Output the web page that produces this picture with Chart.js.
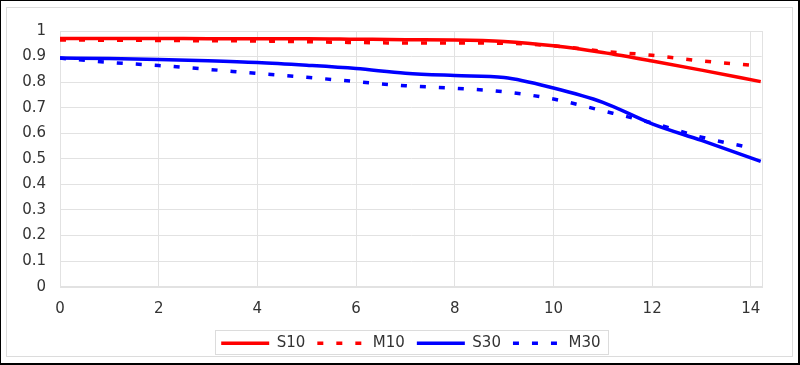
<!DOCTYPE html>
<html>
<head>
<meta charset="utf-8">
<script src="https://cdn.jsdelivr.net/npm/chart.js@4/dist/chart.umd.min.js"></script>
<style>
  html, body { margin: 0; padding: 0; background: #fff; }
  #frame { position: relative; width: 800px; height: 365px; box-sizing: border-box;
           border-top: 1px solid #000; border-left: 1px solid #000;
           border-right: 2px solid #000; border-bottom: 2px solid #000; overflow: hidden; }
  #inner { position: absolute; left: 5px; top: 6px; width: 787px; height: 350px;
           border: 1px solid #dcdcdc; box-sizing: border-box; pointer-events: none; }
  #c { position: absolute; left: -1px; top: -1px; }
</style>
</head>
<body>
<div id="frame">
  <div id="inner"></div>
  <canvas id="c" width="800" height="365"></canvas>
</div>
<script>
// ---- data ----
const xS = [0, 1, 2, 3, 4, 5, 6, 7, 8, 9, 10, 11, 12, 13, 14.2];
const s10 = [0.971, 0.971, 0.971, 0.970, 0.970, 0.970, 0.968, 0.966, 0.965, 0.959, 0.942, 0.916, 0.883, 0.847, 0.802];
const s30 = [0.894, 0.892, 0.889, 0.884, 0.877, 0.866, 0.853, 0.835, 0.826, 0.818, 0.777, 0.721, 0.637, 0.572, 0.490];
const xM = [0, 1, 2, 3, 4, 5, 6, 7, 8, 9, 10, 11, 12, 13, 14];
const m10 = [0.965, 0.964, 0.963, 0.962, 0.961, 0.958, 0.955, 0.953, 0.953, 0.952, 0.942, 0.921, 0.905, 0.883, 0.866];
const m30 = [0.894, 0.877, 0.865, 0.850, 0.834, 0.819, 0.802, 0.786, 0.776, 0.762, 0.734, 0.688, 0.640, 0.585, 0.543];
const seriesNames = ['S10', 'M10', 'S30', 'M30'];
const xTicks = [0, 2, 4, 6, 8, 10, 12, 14];
const yTicks = [0, 0.1, 0.2, 0.3, 0.4, 0.5, 0.6, 0.7, 0.8, 0.9, 1];
const yTickLabels = ['0', '0.1', '0.2', '0.3', '0.4', '0.5', '0.6', '0.7', '0.8', '0.9', '1'];
const xMax = 14.22;

const pts = (xs, ys) => xs.map((x, i) => ({ x: x, y: ys[i] }));
const RED = '#ff0000', BLUE = '#0000ff';
const GRID = '#e2e2e2';
const FONT = { family: '"DejaVu Sans", sans-serif', size: 15 };

function ds(label, data, color, dashed) {
  return {
    label: label, data: data, borderColor: color, backgroundColor: color,
    borderWidth: 3.5, borderDash: dashed ? [6, 13] : [], borderCapStyle: 'butt',
    pointRadius: 0, pointHoverRadius: 0, pointStyle: 'line',
    cubicInterpolationMode: 'monotone', fill: false
  };
}

const frameDeco = {
  id: 'frameDeco',
  beforeDatasetsDraw(chart) {
    const a = chart.chartArea, ctx = chart.ctx;
    ctx.save();
    ctx.strokeStyle = GRID; ctx.lineWidth = 1;
    ctx.strokeRect(Math.round(a.left) + 0.5, Math.round(a.top) + 0.5,
                   Math.round(a.right - a.left), Math.round(a.bottom - a.top));
    ctx.restore();
  },
  afterDraw(chart) {
    const lg = chart.legend;
    if (!lg || !lg.legendHitBoxes || !lg.legendHitBoxes.length) return;
    const hb = lg.legendHitBoxes;
    const first = hb[0], last = hb[hb.length - 1];
    const cy = first.top + first.height / 2;
    const ctx = chart.ctx;
    ctx.save();
    ctx.strokeStyle = '#dcdcdc'; ctx.lineWidth = 1;
    const x0 = Math.round(first.left - 6) + 0.5;
    const x1 = Math.round(last.left + last.width + 8) + 0.5;
    const y0 = Math.round(cy - 13) + 0.5, y1 = Math.round(cy + 11) + 0.5;
    ctx.strokeRect(x0, y0, x1 - x0, y1 - y0);
    ctx.restore();
  }
};

new Chart(document.getElementById('c'), {
  type: 'line',
  data: {
    datasets: [
      ds(seriesNames[0], pts(xS, s10), RED, false),
      ds(seriesNames[1], pts(xM, m10), RED, true),
      ds(seriesNames[2], pts(xS, s30), BLUE, false),
      ds(seriesNames[3], pts(xM, m30), BLUE, true)
    ]
  },
  options: {
    responsive: false,
    animation: false,
    events: [],
    layout: { padding: { top: 31, right: 38.3, bottom: 4.2, left: 0 } },
    plugins: {
      tooltip: { enabled: false },
      legend: {
        position: 'bottom',
        fullSize: false,
        labels: {
          usePointStyle: true, pointStyle: 'line', pointStyleWidth: 48,
          padding: 12, color: '#333', font: FONT,
          generateLabels(chart) {
            const items = Chart.defaults.plugins.legend.labels.generateLabels(chart);
            items.forEach(it => {
              const d = chart.data.datasets[it.datasetIndex];
              it.lineDash = d.borderDash;
              it.lineWidth = d.borderWidth;
              it.strokeStyle = d.borderColor;
              it.fillStyle = d.borderColor;
              it.lineCap = 'butt';
              it.pointStyle = 'line';
            });
            return items;
          }
        }
      }
    },
    scales: {
      x: {
        type: 'linear', min: 0, max: xMax,
        afterBuildTicks: s => { s.ticks = xTicks.map(v => ({ value: v })); },
        afterFit: s => { s.height = 37.1; },
        grid: { color: GRID, drawTicks: false },
        border: { color: GRID },
        ticks: { color: '#333', font: FONT, padding: 13, maxRotation: 0 }
      },
      y: {
        min: 0, max: 1,
        afterBuildTicks: s => { s.ticks = yTicks.map(v => ({ value: v })); },
        afterFit: s => { s.width = 60; },
        grid: { color: GRID, drawTicks: false },
        border: { color: GRID },
        ticks: {
          color: '#333', font: FONT, padding: 14,
          callback: (v, i) => yTickLabels[i]
        }
      }
    }
  },
  plugins: [frameDeco]
});
</script>
</body>
</html>
